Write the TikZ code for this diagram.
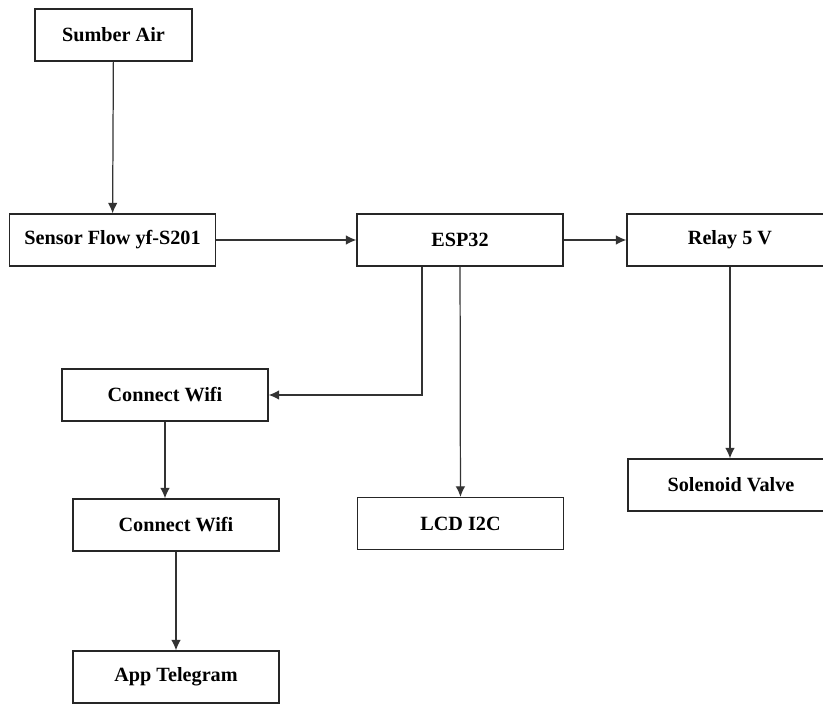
\documentclass[tikz,border=0pt]{standalone}
\usepackage{fontspec}
\setmainfont{Liberation Serif}
\usetikzlibrary{positioning}
\usetikzlibrary{arrows.meta}
\usetikzlibrary{calc}

\begin{document}
\begin{tikzpicture}[x=0.02cm, y=-0.02cm,
		blok/.style={draw=black!85, line width=0.75pt, rectangle, inner sep=0pt, minimum width=4.12cm, minimum height=1.04cm, font=\fontsize{11.5}{13}\selectfont\bfseries},
		panah/.style={draw=black!80, line width=0.7pt, -{Latex[length=6pt, width=5.5pt]}}]
		\clip (0,0) rectangle (823,704);
		\node[blok, minimum width=3.14cm] (sumber) at (113.5,35){Sumber Air};
		\node[blok] (sensor) at (112.5,240){Sensor Flow yf-S201};
		\node[blok] (esp) at (460,240){ESP32};
		\node[blok] (relay) at (730,240){Relay 5 V};
		\node[blok] (wifiA) at (165,395){Connect Wifi};
		\node[blok] (wifiB) at (176,525){Connect Wifi};
		\node[blok] (lcd) at (460.5,523.5){LCD I2C};
		\node[blok] (solenoid) at (731,485){Solenoid Valve};
		\node[blok] (telegram) at (176,677){App Telegram};
		\draw[panah] (sumber) -- (sensor);
		\draw[panah] (sensor) -- (esp);
		\draw[panah] (esp) -- (relay);
		\draw[panah] ([xshift=-0.76cm]esp.south) |- (wifiA.east);
		\draw[panah] (esp) -- (lcd);
		\draw[panah] (relay) -- (relay |- solenoid.north);
		\draw[panah] (wifiA.south) -- (wifiA.south |- wifiB.north);
		\draw[panah] (wifiB) -- (telegram);
	\end{tikzpicture}
\end{document}
